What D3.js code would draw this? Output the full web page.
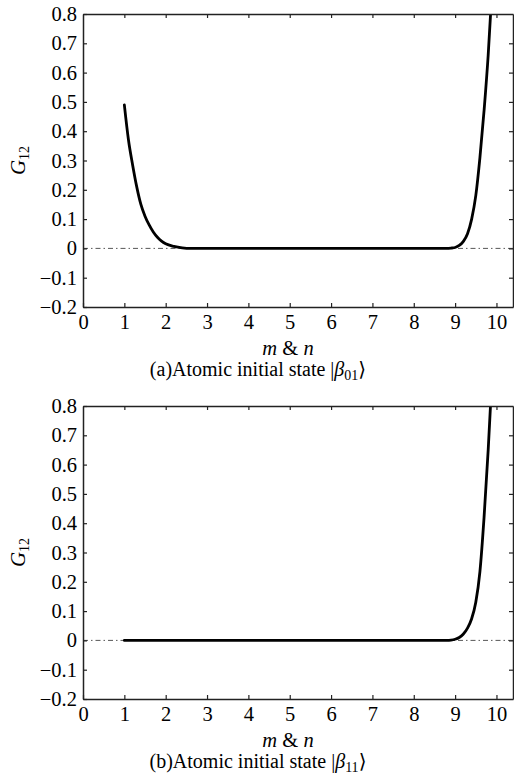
<!DOCTYPE html>
<html><head><meta charset="utf-8">
<script src="https://cdn.jsdelivr.net/npm/d3@7"></script>
<style>
html,body{margin:0;padding:0;background:#fff;}
svg, svg text{font-family:"Liberation Serif","Tinos","Times New Roman","DejaVu Serif",serif !important;}
</style></head>
<body>
<svg id="chart" width="514" height="784"></svg>
<script>
// ---- data ----
const xTicks = [0,1,2,3,4,5,6,7,8,9,10];
const yTicks = [-0.2,-0.1,0,0.1,0.2,0.3,0.4,0.5,0.6,0.7,0.8];
const yTickLabels = ["\u22120.2","\u22120.1","0","0.1","0.2","0.3","0.4","0.5","0.6","0.7","0.8"];

const xA = [1.0,1.1,1.2,1.3,1.4,1.5,1.6,1.7,1.8,1.9,2.0,2.2,2.4,2.6,3,4,5,6,7,8,8.8,8.9,9.0,9.1,9.2,9.3,9.4,9.5,9.6,9.7,9.8,9.87];
const yA = [0.49,0.37,0.285,0.21,0.15,0.11,0.08,0.056,0.038,0.025,0.016,0.007,0.002,0.0,0,0,0,0,0,0,0,0.001,0.003,0.01,0.024,0.05,0.1,0.18,0.31,0.47,0.66,0.83];

const xB = [1,2,3,4,5,6,7,8,8.8,8.9,9.0,9.1,9.2,9.3,9.4,9.5,9.6,9.7,9.8,9.87];
const yB = [0,0,0,0,0,0,0,0,0,0.001,0.004,0.01,0.022,0.042,0.074,0.13,0.235,0.42,0.65,0.84];

const panels = [
  {xs:xA, ys:yA, top:14, bottom:307, label:"a", sub:"01"},
  {xs:xB, ys:yB, top:406, bottom:699, label:"b", sub:"11"}
];

const FONT = '"Liberation Serif","Tinos","Times New Roman","DejaVu Serif",serif';
const svg = d3.select("#chart").attr("font-family", FONT);
const left = 83, right = 513;
const x = d3.scaleLinear().domain([0,10.4]).range([left,right]);
const axisColor = "#222";

panels.forEach((p,i)=>{
  const y = d3.scaleLinear().domain([-0.2,0.8]).range([p.bottom,p.top]);
  const g = svg.append("g");

  const cid = "clip"+i;
  svg.append("clipPath").attr("id",cid).append("rect")
    .attr("x",left).attr("y",p.top).attr("width",right-left).attr("height",p.bottom-p.top);

  // zero dash-dot line
  g.append("line").attr("x1",left).attr("x2",right).attr("y1",y(0)).attr("y2",y(0))
    .attr("stroke","#444").attr("stroke-width",0.9).attr("stroke-dasharray","5,3,1.5,3");

  // curve
  const pts = p.xs.map((v,k)=>[v,p.ys[k]]);
  g.append("path").datum(pts).attr("clip-path",`url(#${cid})`)
    .attr("fill","none").attr("stroke","#000").attr("stroke-width",2.8)
    .attr("stroke-linejoin","round").attr("stroke-linecap","round")
    .attr("d", d3.line().x(d=>x(d[0])).y(d=>y(d[1])).curve(d3.curveMonotoneX));

  // axes
  const ax = g.append("g").attr("transform",`translate(0,${p.bottom})`)
    .call(d3.axisBottom(x).tickValues(xTicks).tickSize(-4).tickPadding(7).tickSizeOuter(0).tickFormat(d3.format("d")));
  const at = g.append("g").attr("transform",`translate(0,${p.top})`)
    .call(d3.axisTop(x).tickValues(xTicks.slice(1)).tickSize(-4).tickSizeOuter(0).tickFormat(""));
  const ay = g.append("g").attr("transform",`translate(${left},0)`)
    .call(d3.axisLeft(y).tickValues(yTicks).tickSize(-4).tickPadding(6).tickSizeOuter(0)
      .tickFormat((d,k)=>yTickLabels[k]));
  const ar = g.append("g").attr("transform",`translate(${right},0)`)
    .call(d3.axisRight(y).tickValues(yTicks.slice(1,-1)).tickSize(-4).tickSizeOuter(0).tickFormat(""));

  [ax,at,ay,ar].forEach(a=>{
    a.attr("font-family", FONT).attr("font-size", 20.5);
    a.select(".domain").attr("stroke",axisColor).attr("stroke-width",1.5);
    a.selectAll(".tick line").attr("stroke",axisColor).attr("stroke-width",1.2);
    a.selectAll("text").attr("fill","#000");
  });

  // x label
  const xl = g.append("text").attr("x",288).attr("y",p.bottom+48).attr("text-anchor","middle")
    .attr("font-size",20.5).attr("fill","#000");
  xl.append("tspan").attr("font-style","italic").text("m");
  xl.append("tspan").text(" & ");
  xl.append("tspan").attr("font-style","italic").text("n");

  // y label
  const cy = (p.top+p.bottom)/2;
  const yl = g.append("text").attr("transform",`translate(25,${cy}) rotate(-90)`)
    .attr("text-anchor","middle").attr("font-size",21).attr("fill","#000");
  yl.append("tspan").attr("font-style","italic").text("G");
  yl.append("tspan").attr("dy",4).attr("font-size",14).text("12");

  // caption
  const cap = g.append("text").attr("x",258).attr("y",p.bottom+69).attr("text-anchor","middle")
    .attr("font-size",20).attr("fill","#000");
  cap.append("tspan").text(`(${p.label})Atomic initial state |`);
  cap.append("tspan").attr("font-style","italic").text("\u03B2");
  cap.append("tspan").attr("dy",4).attr("font-size",14).text(p.sub);
  cap.append("tspan").attr("dy",-4).text("\u27E9");
});
</script>
</body></html>
